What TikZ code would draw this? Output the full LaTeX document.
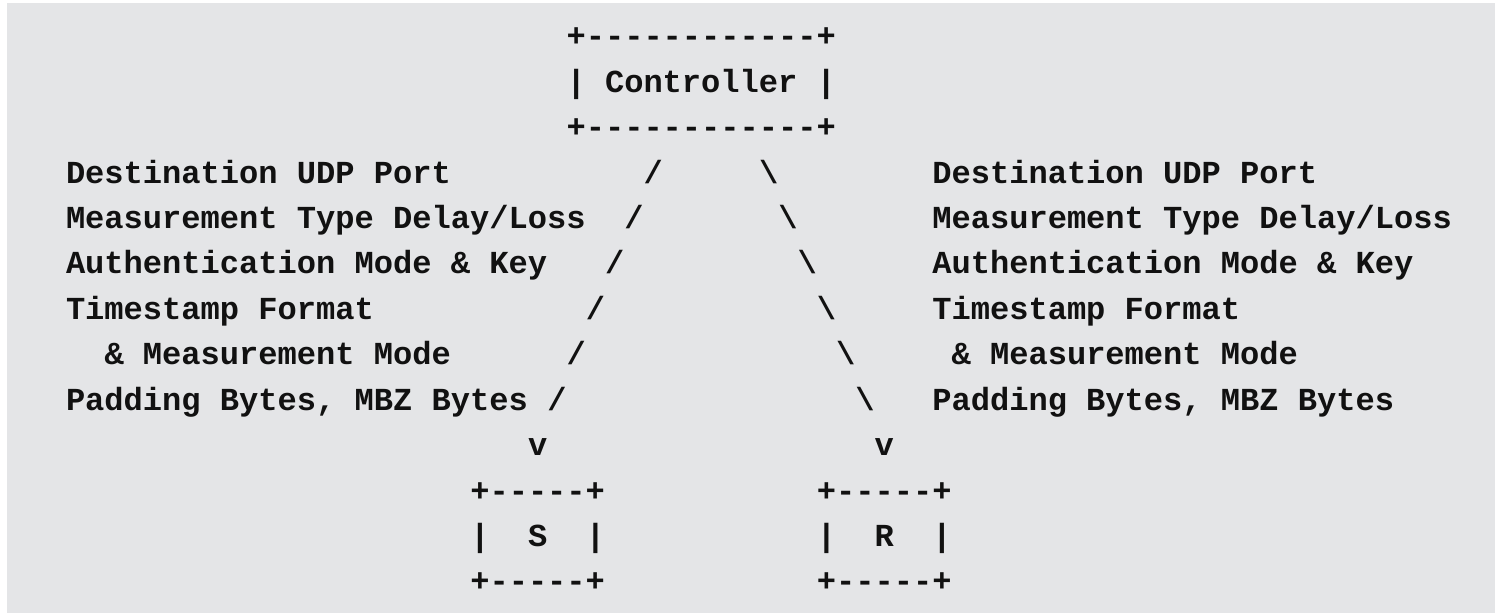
\documentclass[tikz,border=0pt]{standalone}
\usepackage{fontspec}
\setmonofont{Liberation Mono}
\definecolor{panelbg}{HTML}{E4E5E7}
\definecolor{ink}{HTML}{111111}
\begin{document}
\begin{tikzpicture}[x=1pt,y=1pt,
  txt/.style={anchor=base west,inner sep=0pt,outer sep=0pt,text=ink,
    font=\fontsize{32.08}{45.4}\selectfont\ttfamily\bfseries}]
\useasboundingbox (0,0) rectangle (1495,613);
\fill[panelbg] (7,0) rectangle (1495,610);
\begin{scope}[shift={(66pt,566pt)},x=19.25pt,y=-45.4pt]
% Controller box
\node[txt] (ctop) at (26,0) {+------------+};
\node[txt] (ctrl) at (26,1) {| Controller |};
\node[txt] (cbot) at (26,2) {+------------+};
% left labels
\node[txt] (l1) at (0,3) {Destination UDP Port};
\node[txt] (l2) at (0,4) {Measurement Type Delay/Loss};
\node[txt] (l3) at (0,5) {Authentication Mode \& Key};
\node[txt] (l4) at (0,6) {Timestamp Format};
\node[txt] (l5) at (2,7) {\& Measurement Mode};
\node[txt] (l6) at (0,8) {Padding Bytes, MBZ Bytes};
% right labels
\node[txt] (r1) at (45,3) {Destination UDP Port};
\node[txt] (r2) at (45,4) {Measurement Type Delay/Loss};
\node[txt] (r3) at (45,5) {Authentication Mode \& Key};
\node[txt] (r4) at (45,6) {Timestamp Format};
\node[txt] (r5) at (46,7) {\& Measurement Mode};
\node[txt] (r6) at (45,8) {Padding Bytes, MBZ Bytes};
% left diagonal
\node[txt] (s1) at (30,3) {/};
\node[txt] (s2) at (29,4) {/};
\node[txt] (s3) at (28,5) {/};
\node[txt] (s4) at (27,6) {/};
\node[txt] (s5) at (26,7) {/};
\node[txt] (s6) at (25,8) {/};
\node[txt] (sv) at (24,9) {v};
% right diagonal
\node[txt] (b1) at (36,3) {\textbackslash};
\node[txt] (b2) at (37,4) {\textbackslash};
\node[txt] (b3) at (38,5) {\textbackslash};
\node[txt] (b4) at (39,6) {\textbackslash};
\node[txt] (b5) at (40,7) {\textbackslash};
\node[txt] (b6) at (41,8) {\textbackslash};
\node[txt] (bv) at (42,9) {v};
% S box
\node[txt] (stop) at (21,10) {+-----+};
\node[txt] (sl) at (21,11) {|};
\node[txt] (S) at (24,11) {S};
\node[txt] (sr) at (27,11) {|};
\node[txt] (sbot) at (21,12) {+-----+};
% R box
\node[txt] (rtop) at (39,10) {+-----+};
\node[txt] (rl) at (39,11) {|};
\node[txt] (R) at (42,11) {R};
\node[txt] (rr) at (45,11) {|};
\node[txt] (rbot) at (39,12) {+-----+};
\end{scope}
\end{tikzpicture}
\end{document}
